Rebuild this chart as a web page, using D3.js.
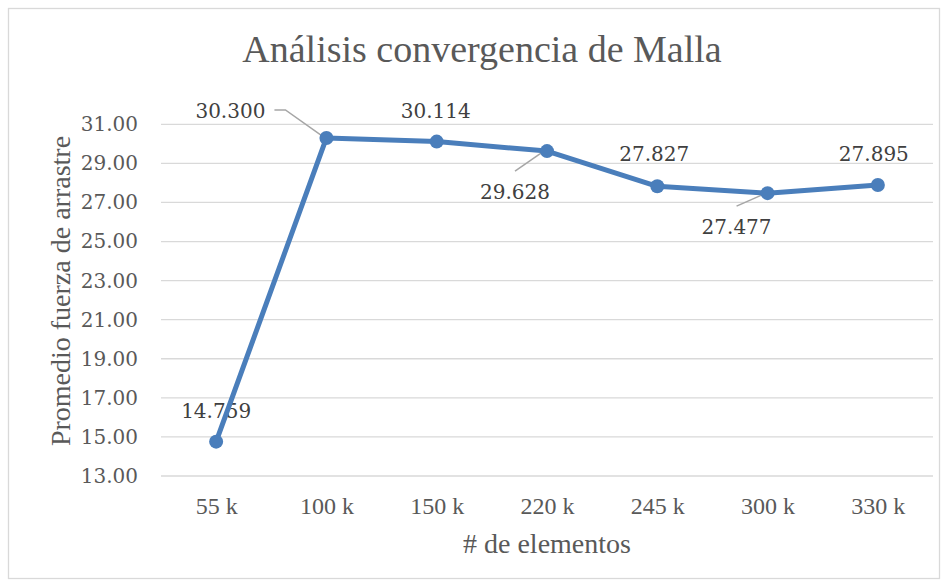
<!DOCTYPE html>
<html>
<head>
<meta charset="utf-8">
<script src="https://cdn.jsdelivr.net/npm/d3@7"></script>
<style>
  body { margin: 0; background: #fff; }
  .tick text { fill: #595959; }
  .grid line { stroke: #d9d9d9; stroke-width: 1.3px; }
  .lbl { fill: #404040; font: 20px "DejaVu Serif", serif; }
</style>
</head>
<body>
<div id="chart"></div>
<script>
var categories = ['55 k', '100 k', '150 k', '220 k', '245 k', '300 k', '330 k'];
var values = [14.759, 30.300, 30.114, 29.628, 27.827, 27.477, 27.895];
var yTicks = [13, 15, 17, 19, 21, 23, 25, 27, 29, 31];

var W = 946, H = 584;
var plotLeft = 161, plotRight = 933, plotTop = 124.3, plotBottom = 476;

var svg = d3.select('#chart').append('svg')
  .attr('width', W).attr('height', H);

// chart border
svg.append('rect')
  .attr('x', 8.5).attr('y', 8.5)
  .attr('width', 931).attr('height', 570)
  .style('fill', 'none').style('stroke', '#d9d9d9').style('stroke-width', 1.3);

var x = d3.scalePoint().domain(categories).range([plotLeft, plotRight]).padding(0.5);
var y = d3.scaleLinear().domain([13, 31]).range([plotBottom, plotTop]);

// gridlines
svg.append('g').attr('class', 'grid')
  .selectAll('line').data(yTicks).enter().append('line')
  .attr('x1', plotLeft).attr('x2', plotRight)
  .attr('y1', function(d){ return y(d); })
  .attr('y2', function(d){ return y(d); });

// y axis
var yAxis = d3.axisLeft(y).tickValues(yTicks).tickSize(0).tickPadding(0)
  .tickFormat(d3.format('.2f'));
svg.append('g')
  .attr('transform', 'translate(138,0)')
  .call(yAxis)
  .call(function(g){ g.select('.domain').remove(); })
  .selectAll('text')
  .style('font', '20px "DejaVu Serif", serif');

// x axis
var xAxis = d3.axisBottom(x).tickSize(0).tickPadding(0);
svg.append('g')
  .attr('transform', 'translate(0,' + plotBottom + ')')
  .call(xAxis)
  .call(function(g){ g.select('.domain').remove(); })
  .selectAll('text')
  .attr('dy', null).attr('y', 38)
  .style('font', '24px "Liberation Serif", serif');

// titles
svg.append('text')
  .attr('x', 482).attr('y', 62)
  .attr('text-anchor', 'middle')
  .style('fill', '#595959')
  .style('font', '38px "Liberation Serif", serif')
  .text('Análisis convergencia de Malla');

svg.append('text')
  .attr('x', 547).attr('y', 553)
  .attr('text-anchor', 'middle')
  .style('fill', '#595959')
  .style('font', '28px "Liberation Serif", serif')
  .text('# de elementos');

svg.append('text')
  .attr('transform', 'translate(70,291) rotate(-90)')
  .attr('text-anchor', 'middle')
  .style('fill', '#595959')
  .style('font', '28px "Liberation Serif", serif')
  .text('Promedio fuerza de arrastre');

var data = categories.map(function(c, i){ return { cat: c, val: values[i] }; });

// data label placement (offset from point) and optional leader lines
var place = [
  { dx: 0, dy: -24 },
  { dx: -96, dy: -20, leader: true },
  { dx: -1, dy: -24 },
  { dx: -32, dy: 48, leader: true },
  { dx: -3, dy: -25 },
  { dx: -31, dy: 41, leader: true },
  { dx: -4, dy: -24 }
];

var labels = svg.append('g');
labels.selectAll('text').data(data).enter().append('text')
  .attr('class', 'lbl')
  .attr('text-anchor', 'middle')
  .attr('x', function(d, i){ return x(d.cat) + place[i].dx; })
  .attr('y', function(d, i){ return y(d.val) + place[i].dy; })
  .text(function(d){ return d3.format('.3f')(d.val); });

// leader lines
var leaders = svg.append('g')
  .style('fill', 'none').style('stroke', '#a6a6a6').style('stroke-width', 1.5);
data.forEach(function(d, i){
  if (!place[i].leader) return;
  var px = x(d.cat), py = y(d.val);
  var tx = px + place[i].dx, ty = py + place[i].dy;
  var pts;
  if (place[i].dy < 0) {
    // label to the upper-left: horizontal stub then diagonal to point
    pts = [[tx + 44, ty - 8], [tx + 55, ty - 8], [px - 3, py - 1]];
  } else {
    pts = [[tx, ty - 28], [px - 6, py + 2]];
  }
  leaders.append('path').attr('d', d3.line()(pts));
});

// series line
svg.append('path').datum(data)
  .attr('d', d3.line()
    .x(function(d){ return x(d.cat); })
    .y(function(d){ return y(d.val); }))
  .style('fill', 'none')
  .style('stroke', '#4a7ebb')
  .style('stroke-width', 5)
  .style('stroke-linejoin', 'round');

svg.append('g').selectAll('circle').data(data).enter().append('circle')
  .attr('cx', function(d){ return x(d.cat); })
  .attr('cy', function(d){ return y(d.val); })
  .attr('r', 7)
  .style('fill', '#4a7ebb');
</script>
</body>
</html>
